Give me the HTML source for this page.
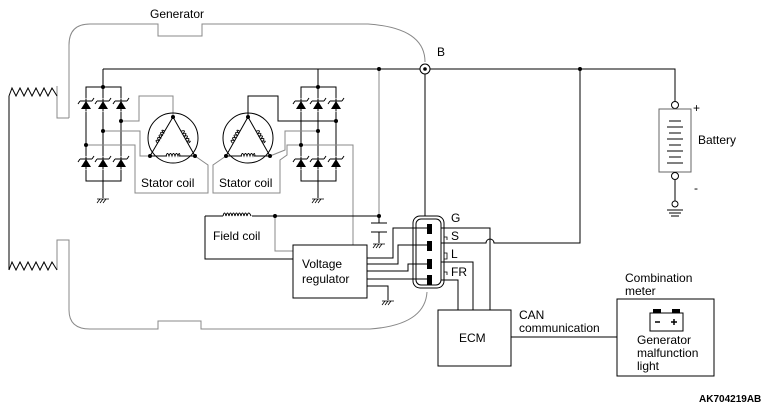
<!DOCTYPE html>
<html><head><meta charset="utf-8"><style>
html,body{margin:0;padding:0;background:#fff;}
svg{display:block;font-family:"Liberation Sans",Arial,sans-serif;}
</style></head><body>
<svg width="770" height="410" viewBox="0 0 770 410" xmlns="http://www.w3.org/2000/svg">
<defs>
<g id="d"><path d="M-5,4 L5,4 L0,-4 Z" fill="#000"/><path d="M-6,-4 L6,-4 M6,-4 L8,-7 M-6,-4 L-8,-1" stroke="#000" stroke-width="1" fill="none"/></g>
<g id="gnd"><path d="M-3,6 L-6,10 M0,6 L-3,10 M3,6 L0,10 M-6,6 L6,6" stroke="#000" stroke-width="0.8"/></g>
<g id="coil"><path d="M-7,0 q1.5,-5 3,0 q1.5,-5 3,0 q1.5,-5 3,0 q1.5,-5 3,0 q1.5,-5 2,0" stroke="#000" fill="none" stroke-width="0.9"/></g>
</defs>
<g fill="none" stroke-width="1">
<!-- generator outline -->
<g stroke="#888">
<path d="M69,118 L69,45 Q69,24 90,24 L158,24 L158,36 L202,36 L202,24 L368,24 Q425,28 425,62"/>
<path d="M69,118 L57,118 L57,86"/>
<path d="M57,270 L57,240 L69,240 L69,310 Q69,329 90,329 L158,329 L158,321 L201,321 L201,329 L370,329 Q425,325 427,292"/>
</g>
<!-- left zigzags -->
<g stroke="#000">
<path d="M9,96 L12,88 L16,96 L20,88 L24,96 L28,88 L32,96 L36,88 L40,96 L44,88 L48,96 L52,88 L57,96"/>
<path d="M9,270 L12,262 L16,270 L20,262 L24,270 L28,262 L32,270 L36,262 L40,270 L44,262 L48,270 L52,262 L57,270"/>
<path d="M9,96 L9,270"/>
<!-- top bus -->
<path d="M103,69 L420,69 M430,69 L675,69 L675,102"/>
<!-- rectifier left -->
<path d="M103,69 L103,198 M86,87 L121,87 L121,181 L86,181 Z"/>
<!-- rectifier right -->
<path d="M318,69 L318,198 M301,87 L336,87 L336,181 L301,181 Z"/>
</g>
<g stroke="#fff" fill="#fff"><rect x="84" y="99" width="40" height="12"/><rect x="84" y="157" width="40" height="12"/><rect x="299" y="99" width="40" height="12"/><rect x="299" y="157" width="40" height="12"/></g>
<g stroke="#000"><path d="M86,99 L86,111 M103,99 L103,111 M121,99 L121,111 M86,157 L86,169 M103,157 L103,169 M121,157 L121,169 M301,99 L301,111 M318,99 L318,111 M336,99 L336,111 M301,157 L301,169 M318,157 L318,169 M336,157 L336,169"/></g>
<use href="#d" x="86" y="105"/><use href="#d" x="103" y="105"/><use href="#d" x="121" y="105"/>
<use href="#d" x="86" y="163"/><use href="#d" x="103" y="163"/><use href="#d" x="121" y="163"/>
<use href="#d" x="301" y="105"/><use href="#d" x="318" y="105"/><use href="#d" x="336" y="105"/>
<use href="#d" x="301" y="163"/><use href="#d" x="318" y="163"/><use href="#d" x="336" y="163"/>
<use href="#gnd" x="103" y="193"/><use href="#gnd" x="318" y="193"/>
<!-- rectifier to stator gray wires -->
<g stroke="#888">
<path d="M121,121 L139,121 L139,96 L173,96 L173,117"/>
<path d="M103,131 L140,131 L140,156 L150,156"/>
<path d="M86,145 L135,145 L135,193 L208,193 L208,165 L195,156"/>
<path d="M226,156 L213,165 L213,193 L280,193 L280,160 L287,155 L287,145 L353,145 L353,245"/>
<path d="M318,131 L285,131 L285,150 L270,156"/>
<path d="M379,69 L379,216"/>
<path d="M275,216 L275,251 L293,251"/>
</g>
<g stroke="#000">
<path d="M248,117 L248,96 L278,96 L278,121 L336,121"/>
<!-- stators -->
<circle cx="173" cy="138" r="25"/><circle cx="248" cy="138" r="25"/>
<path d="M173,117 L150,156 L195,156 Z M248,117 L226,156 L270,156 Z"/>
</g>
<g stroke="#fff" stroke-width="5"><path d="M158,132 L165,120 M181,120 L188,132 M167,156 L179,156 M233,132 L240,120 M256,120 L263,132 M242,156 L254,156"/></g>
<use href="#coil" x="173" y="156" transform="scale(1)"/>
<use href="#coil" x="248" y="156"/>
<use href="#coil" transform="translate(161,137) rotate(-60)"/>
<use href="#coil" transform="translate(185,137) rotate(60)"/>
<use href="#coil" transform="translate(236,137) rotate(-60)"/>
<use href="#coil" transform="translate(260,137) rotate(60)"/>
<!-- field coil -->
<g stroke="#000">
<path d="M205,216 L223,216 M252,216 L379,216 M205,216 L205,259 L293,259"/>
<path d="M379,216 L379,223 M371,223 L387,223 M371,232 L387,232 M379,232 L379,243"/>
</g>
<path d="M223,216 q1.5,-6 3,0 q1.5,-6 3,0 q1.5,-6 3,0 q1.5,-6 3,0 q1.5,-6 3,0 q1.5,-6 3,0 q1.5,-6 3,0 q1.5,-6 3,0 q1.5,-6 4,0" stroke="#000"/>
<use href="#gnd" x="379" y="238"/>
<!-- regulator -->
<rect x="293" y="245" width="74" height="53" stroke="#000"/>
<g stroke="#000">
<path d="M367,258 L393,258 L393,228 L429,228"/>
<path d="M367,264 L398,264 L398,245 L429,245"/>
<path d="M367,271 L408,271 L408,264 L429,264"/>
<path d="M367,279 L429,279"/>
<path d="M367,286 L388,286 L388,300"/>
<!-- B stub -->
<path d="M425,74 L425,216"/>
<!-- connector right lines -->
<path d="M441,228 L490,228 L490,310"/>
<path d="M441,243 L486,243 A4,4 0 0 1 494,243 L580,243 L580,69"/>
<path d="M441,262 L473,262 L473,310"/>
<path d="M441,280 L458,280 L458,310"/>
</g>
<use href="#gnd" x="388" y="295"/>
<rect x="413" y="216" width="31" height="72" rx="7" stroke="#000"/>
<rect x="416" y="219" width="25" height="66" rx="5" stroke="#000"/>
<g fill="#000"><rect x="427" y="224" width="5" height="10"/><rect x="427" y="241" width="5" height="10"/><rect x="427" y="259" width="5" height="10"/><rect x="427" y="275" width="5" height="10"/></g>
<g stroke="#000" stroke-width="0.8"><path d="M444,237 L447,237 L447,240 M444,253 L447,253 L447,259 L444,259 M444,272 L447,272 L447,275"/></g>
<!-- B terminal -->
<circle cx="425" cy="69" r="5" stroke="#000"/><circle cx="425" cy="69" r="1.8" fill="#000"/>
<!-- dots -->
<g fill="#000">
<circle cx="103" cy="87" r="2"/><circle cx="121" cy="121" r="2"/><circle cx="103" cy="131" r="2"/><circle cx="86" cy="145" r="2"/>
<circle cx="173" cy="117" r="2"/><circle cx="150" cy="156" r="2"/><circle cx="195" cy="156" r="2"/>
<circle cx="248" cy="117" r="2"/><circle cx="226" cy="156" r="2"/><circle cx="270" cy="156" r="2"/>
<circle cx="318" cy="87" r="2"/><circle cx="336" cy="121" r="2"/><circle cx="318" cy="131" r="2"/><circle cx="301" cy="145" r="2"/>
<circle cx="379" cy="69" r="2"/><circle cx="580" cy="69" r="2"/><circle cx="275" cy="216" r="2"/><circle cx="379" cy="216" r="2"/>
</g>
<!-- battery -->
<g stroke="#000">
<circle cx="675" cy="105" r="3.5" fill="#fff"/>
<rect x="659" y="109" width="32" height="63" stroke="#666"/>
<path d="M669,121 L681,121 M667,127 L683,127 M669,133 L681,133 M667,139 L683,139 M669,145 L681,145 M667,151 L683,151 M669,157 L681,157 M667,163 L683,163"/>
<circle cx="675" cy="176" r="3.5" fill="#fff"/>
<path d="M675,180 L675,201"/>
<circle cx="675" cy="204" r="3" fill="#fff"/>
<path d="M667,210 L683,210 M669,213 L681,213 M671,216 L679,216"/>
</g>
<!-- ECM & meter -->
<rect x="438" y="310" width="73" height="56" stroke="#000"/>
<path d="M511,337 L617,337" stroke="#000"/>
<rect x="617" y="299" width="97" height="77" stroke="#000"/>
<rect x="650" y="313" width="33" height="18" stroke="#000"/>
<rect x="653" y="309" width="8" height="4" fill="#000"/><rect x="672" y="309" width="8" height="4" fill="#000"/>
<path d="M655,322 L660,322 M671,322 L677,322 M674,319 L674,325" stroke="#000" stroke-width="1.5"/>
</g>
<g font-size="12" fill="#000">
<text x="150" y="18">Generator</text>
<text x="437" y="56">B</text>
<text x="141" y="187">Stator coil</text>
<text x="219" y="187">Stator coil</text>
<text x="213" y="240">Field coil</text>
<text x="302" y="268">Voltage</text>
<text x="302" y="283">regulator</text>
<text x="451" y="222">G</text>
<text x="451" y="240">S</text>
<text x="451" y="258">L</text>
<text x="451" y="276">FR</text>
<text x="698" y="144">Battery</text>
<text x="693" y="112">+</text>
<text x="694" y="192">-</text>
<text x="459" y="342">ECM</text>
<text x="519" y="319">CAN</text>
<text x="519" y="332">communication</text>
<text x="625" y="282">Combination</text>
<text x="625" y="295">meter</text>
<text x="637" y="344">Generator</text>
<text x="637" y="357">malfunction</text>
<text x="637" y="370">light</text>
<text x="699" y="402" font-size="10" font-weight="bold">AK704219AB</text>
</g>
</svg>
</body></html>
